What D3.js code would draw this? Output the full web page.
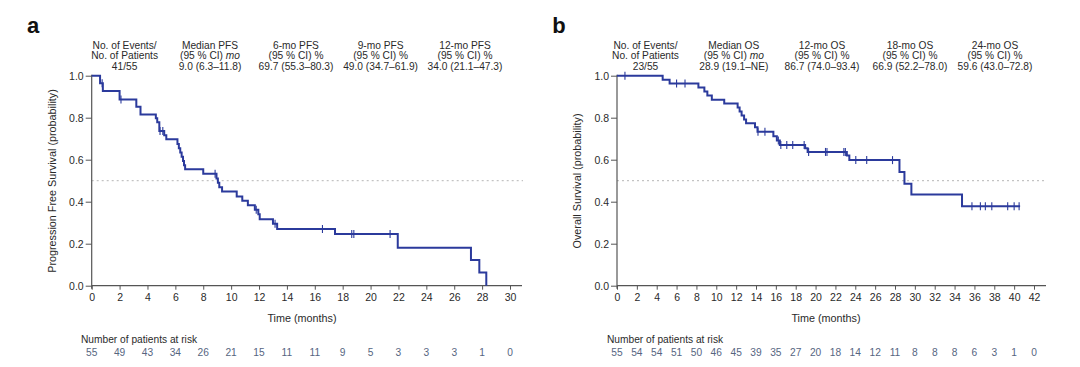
<!DOCTYPE html>
<html>
<head>
<meta charset="utf-8">
<script src="https://cdn.jsdelivr.net/npm/d3@7"></script>
<style>
  html, body { margin: 0; padding: 0; background: #fff; }
  svg { display: block; font-family: "Liberation Sans", Arial, sans-serif; }
</style>
</head>
<body>
<svg id="chart" width="1080" height="367"></svg>
<script>
// ---------------- DATA ----------------
// Panel a: Progression Free Survival
const pfsTimes = [0, 0.6, 0.8, 2.0, 3.2, 3.5, 4.6, 4.7, 4.85, 5.2, 5.35, 6.15, 6.25, 6.35, 6.45, 6.55, 6.62, 6.7, 8.0, 8.95, 9.05, 9.15, 9.35, 10.4, 10.8, 11.2, 11.7, 11.95, 12.05, 13.0, 13.3, 17.45, 21.95, 27.2, 27.8, 28.3];
const pfsSurv  = [1.0, 0.964, 0.927, 0.887, 0.852, 0.815, 0.797, 0.778, 0.737, 0.717, 0.697, 0.675, 0.655, 0.634, 0.614, 0.594, 0.574, 0.554, 0.533, 0.511, 0.49, 0.469, 0.448, 0.425, 0.405, 0.383, 0.362, 0.34, 0.317, 0.295, 0.27, 0.246, 0.181, 0.122, 0.063, 0.0];
const pfsCensor = [0.75, 2.1, 4.9, 5.1, 8.85, 11.8, 13.15, 16.55, 18.65, 18.8, 21.4];
const pfsEnd = 28.3;
const pfsRiskTimes = [0, 2, 4, 6, 8, 10, 12, 14, 16, 18, 20, 22, 24, 26, 28, 30];
const pfsAtRisk = [55, 49, 43, 34, 26, 21, 15, 11, 11, 9, 5, 3, 3, 3, 1, 0];
const pfsHeaderCols = [
  ["No. of Events/", "No. of Patients", "41/55"],
  ["Median PFS", "(95 % CI) mo", "9.0 (6.3\u201311.8)"],
  ["6-mo PFS", "(95 % CI) %", "69.7 (55.3\u201380.3)"],
  ["9-mo PFS", "(95 % CI) %", "49.0 (34.7\u201361.9)"],
  ["12-mo PFS", "(95 % CI) %", "34.0 (21.1\u201347.3)"]
];

// Panel b: Overall Survival
const osTimes = [0, 4.6, 5.3, 8.2, 8.8, 9.1, 9.55, 10.8, 12.15, 12.35, 12.55, 12.8, 13.0, 13.9, 14.15, 15.75, 16.1, 16.4, 18.95, 19.2, 23.15, 23.4, 28.45, 28.95, 29.65, 34.75];
const osSurv  = [1.0, 0.981, 0.963, 0.944, 0.925, 0.906, 0.885, 0.868, 0.849, 0.830, 0.811, 0.792, 0.773, 0.754, 0.733, 0.712, 0.691, 0.67, 0.655, 0.637, 0.62, 0.598, 0.541, 0.486, 0.434, 0.378];
const osCensor = [0.8, 6.0, 6.85, 14.2, 14.9, 16.25, 16.5, 17.1, 17.7, 18.85, 19.3, 21.0, 21.15, 22.85, 23.0, 24.05, 25.15, 27.75, 35.75, 36.6, 37.1, 37.75, 39.35, 40.0, 40.5];
const osEnd = 40.6;
const osRiskTimes = [0, 2, 4, 6, 8, 10, 12, 14, 16, 18, 20, 22, 24, 26, 28, 30, 32, 34, 36, 38, 40, 42];
const osAtRisk = [55, 54, 54, 51, 50, 46, 45, 39, 35, 27, 20, 18, 14, 12, 11, 8, 8, 8, 6, 3, 1, 0];
const osHeaderCols = [
  ["No. of Events/", "No. of Patients", "23/55"],
  ["Median OS", "(95 % CI) mo", "28.9 (19.1\u2013NE)"],
  ["12-mo OS", "(95 % CI) %", "86.7 (74.0\u201393.4)"],
  ["18-mo OS", "(95 % CI) %", "66.9 (52.2\u201378.0)"],
  ["24-mo OS", "(95 % CI) %", "59.6 (43.0\u201372.8)"]
];

const yTicks = [0, 0.2, 0.4, 0.6, 0.8, 1.0];

// ---------------- DRAW ----------------
const svg = d3.select("#chart");
const LINE = "#2b3a9c";
const AXIS = "#555";
const TEXT = "#2a2a2a";
const RISK = "#56657f";

function drawPanel(cfg) {
  const g = svg.append("g");
  const x = d3.scaleLinear().domain([0, cfg.xMax]).range([cfg.x0, cfg.x1]);
  const y = d3.scaleLinear().domain([0, 1]).range([285.7, 75.7]);

  // panel letter
  g.append("text").attr("x", cfg.letterX).attr("y", 33)
    .attr("font-size", 22).attr("font-weight", "bold").attr("fill", "#111")
    .attr("text-anchor", "middle").text(cfg.letter);

  // header
  cfg.header.forEach((col, i) => {
    col.forEach((line, j) => {
      const t = g.append("text").attr("x", cfg.headerX[i]).attr("y", 48.6 + j * 10.7)
        .attr("font-size", 10.2).attr("fill", TEXT).attr("text-anchor", "middle");
      if (j === 1 && line.endsWith(" mo")) {
        t.append("tspan").text(line.slice(0, -2));
        t.append("tspan").attr("font-style", "italic").text("mo");
      } else {
        t.text(line);
      }
    });
  });

  // dashed median line
  g.append("line").attr("x1", cfg.x0).attr("x2", cfg.dashEnd)
    .attr("y1", y(0.5)).attr("y2", y(0.5))
    .attr("stroke", "#b5b5b5").attr("stroke-width", 1).attr("stroke-dasharray", "2,3");

  // axes
  const xAxis = d3.axisBottom(x).tickValues(cfg.riskTimes).tickSize(4).tickSizeOuter(0)
    .tickFormat(d3.format("d"));
  const gx = g.append("g").attr("transform", `translate(0,${y(0)})`).call(xAxis);
  gx.select(".domain").remove();
  gx.selectAll(".tick line").attr("stroke", AXIS);
  gx.selectAll(".tick text").attr("font-size", 10.5).attr("fill", TEXT)
    .attr("font-family", "Liberation Sans, Arial, sans-serif").attr("dy", "0.71em").attr("y", 8);
  g.append("line").attr("x1", cfg.x0).attr("x2", cfg.axisEnd).attr("y1", y(0)).attr("y2", y(0))
    .attr("stroke", AXIS).attr("stroke-width", 1.2);

  const yAxis = d3.axisLeft(y).tickValues(yTicks).tickSize(6).tickFormat(d3.format(".1f"));
  const gy = g.append("g").attr("transform", `translate(${cfg.x0},0)`).call(yAxis);
  gy.select(".domain").remove();
  gy.selectAll(".tick line").attr("stroke", AXIS);
  gy.selectAll(".tick text").attr("font-size", 10.5).attr("fill", TEXT)
    .attr("font-family", "Liberation Sans, Arial, sans-serif").attr("x", -8);
  g.append("line").attr("x1", cfg.x0).attr("x2", cfg.x0).attr("y1", y(1) - 1).attr("y2", y(0) + 3)
    .attr("stroke", AXIS).attr("stroke-width", 1.2);

  // axis titles
  g.append("text").attr("transform", `translate(${cfg.yLabelX},181) rotate(-90)`)
    .attr("text-anchor", "middle").attr("dominant-baseline", "central")
    .attr("font-size", 10.8).attr("fill", TEXT).text(cfg.yLabel);
  g.append("text").attr("x", cfg.timeX).attr("y", 322).attr("text-anchor", "middle")
    .attr("font-size", 10.8).attr("fill", TEXT).text("Time (months)");

  // KM curve
  const pts = cfg.times.map((t, i) => [t, cfg.surv[i]]);
  const last = cfg.surv[cfg.surv.length - 1];
  if (cfg.end > cfg.times[cfg.times.length - 1]) pts.push([cfg.end, last]);
  const line = d3.line().x(d => x(d[0])).y(d => y(d[1])).curve(d3.curveStepAfter);
  g.append("path").datum(pts).attr("d", line).attr("fill", "none")
    .attr("stroke", LINE).attr("stroke-width", 2);

  // censor marks
  const survAt = t => {
    let s = 1;
    cfg.times.forEach((tt, i) => { if (tt <= t) s = cfg.surv[i]; });
    return s;
  };
  g.selectAll(".cens").data(cfg.censor).enter().append("line")
    .attr("x1", d => x(d)).attr("x2", d => x(d))
    .attr("y1", d => y(survAt(d)) - 4).attr("y2", d => y(survAt(d)) + 4)
    .attr("stroke", LINE).attr("stroke-width", 1.1);

  // at risk
  g.append("text").attr("x", cfg.riskLabelX).attr("y", 343).attr("font-size", 10.2)
    .attr("fill", TEXT).text("Number of patients at risk");
  g.selectAll(".risk").data(cfg.atRisk).enter().append("text")
    .attr("x", (d, i) => x(cfg.riskTimes[i])).attr("y", 355.5)
    .attr("text-anchor", "middle").attr("font-size", 10.2).attr("fill", RISK).text(d => d);
}

drawPanel({
  letter: "a", letterX: 33, xMax: 30, x0: 91.7, x1: 510, axisEnd: 522, dashEnd: 523,
  header: pfsHeaderCols, headerX: [124.6, 210, 296, 380.6, 465],
  times: pfsTimes, surv: pfsSurv, censor: pfsCensor, end: pfsEnd,
  riskTimes: pfsRiskTimes, atRisk: pfsAtRisk,
  yLabel: "Progression Free Survival (probability)", yLabelX: 51.7, timeX: 302, riskLabelX: 81
});
drawPanel({
  letter: "b", letterX: 559, xMax: 42, x0: 617, x1: 1034, axisEnd: 1046, dashEnd: 1047,
  header: osHeaderCols, headerX: [645.5, 733.8, 822, 910, 995],
  times: osTimes, surv: osSurv, censor: osCensor, end: osEnd,
  riskTimes: osRiskTimes, atRisk: osAtRisk,
  yLabel: "Overall Survival (probability)", yLabelX: 576.7, timeX: 826, riskLabelX: 607
});
</script>
</body>
</html>
